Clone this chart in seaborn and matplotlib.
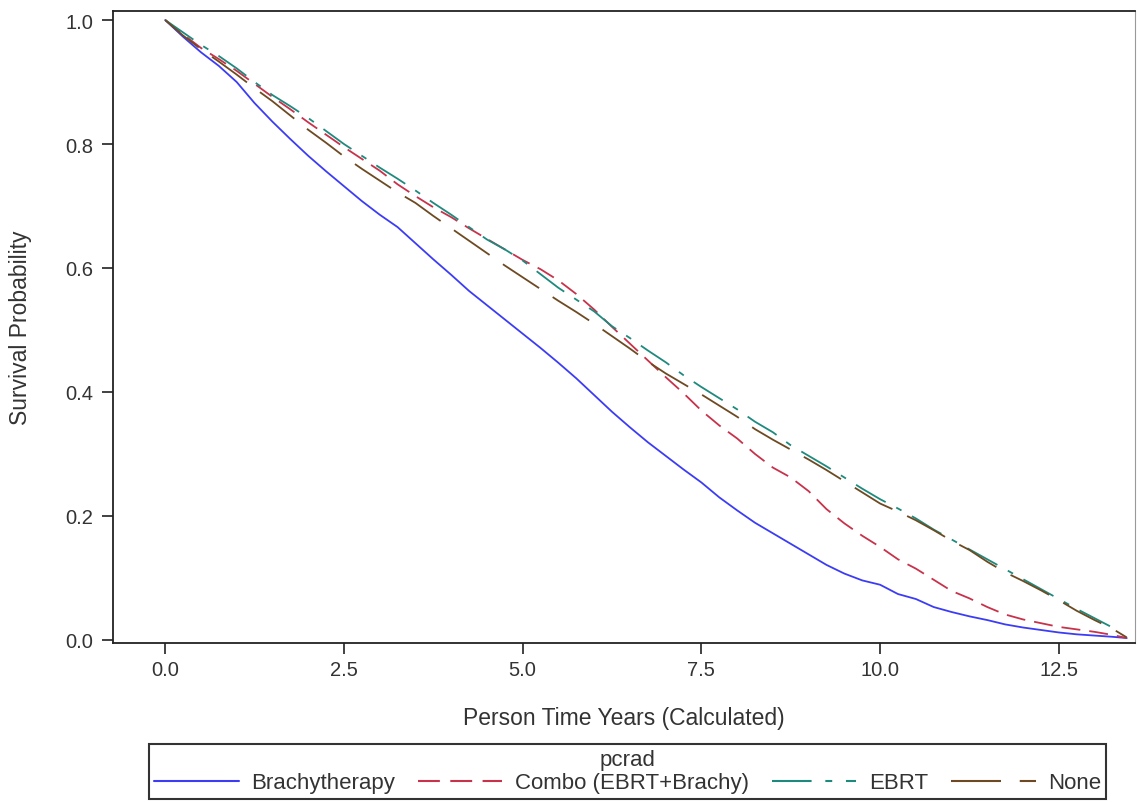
import pandas as pd
import numpy as np
import matplotlib.pyplot as plt
import seaborn as sns
from matplotlib.lines import Line2D

# ------------------------
# data (survival at quarter-year marks)
# ------------------------
years = [0.00, 0.25, 0.50, 0.75, 1.00, 1.25, 1.50, 1.75, 2.00, 2.25, 2.50, 2.75,
         3.00, 3.25, 3.50, 3.75, 4.00, 4.25, 4.50, 4.75, 5.00, 5.25, 5.50, 5.75,
         6.00, 6.25, 6.50, 6.75, 7.00, 7.25, 7.50, 7.75, 8.00, 8.25, 8.50, 8.75,
         9.00, 9.25, 9.50, 9.75, 10.00, 10.25, 10.50, 10.75, 11.00, 11.25, 11.50,
         11.75, 12.00, 12.25, 12.50, 12.75, 13.00, 13.25, 13.45]

brachy = [1.000, 0.973, 0.948, 0.926, 0.900, 0.866, 0.836, 0.808, 0.781, 0.756, 0.732, 0.708,
          0.686, 0.666, 0.640, 0.614, 0.589, 0.563, 0.540, 0.517, 0.494, 0.471, 0.447, 0.422,
          0.395, 0.368, 0.343, 0.319, 0.297, 0.275, 0.254, 0.230, 0.209, 0.189, 0.172, 0.155,
          0.138, 0.121, 0.107, 0.096, 0.089, 0.074, 0.066, 0.053, 0.045, 0.038, 0.032,
          0.025, 0.020, 0.016, 0.012, 0.009, 0.007, 0.005, 0.003]

combo = [1.000, 0.977, 0.955, 0.937, 0.918, 0.897, 0.876, 0.856, 0.835, 0.815, 0.795, 0.776,
         0.757, 0.735, 0.716, 0.698, 0.682, 0.664, 0.647, 0.630, 0.613, 0.598, 0.580, 0.558,
         0.533, 0.505, 0.478, 0.451, 0.424, 0.398, 0.370, 0.346, 0.325, 0.300, 0.278, 0.262,
         0.240, 0.211, 0.188, 0.168, 0.150, 0.130, 0.115, 0.097, 0.079, 0.067, 0.053,
         0.041, 0.033, 0.027, 0.021, 0.017, 0.013, 0.008, 0.003]

ebrt_years = years[:-1] + [13.35]
ebrt = [1.000, 0.980, 0.960, 0.942, 0.922, 0.900, 0.879, 0.861, 0.842, 0.821, 0.800, 0.781,
        0.762, 0.744, 0.725, 0.705, 0.686, 0.666, 0.646, 0.630, 0.612, 0.590, 0.568, 0.549,
        0.530, 0.506, 0.487, 0.467, 0.448, 0.427, 0.408, 0.390, 0.372, 0.352, 0.335, 0.314,
        0.297, 0.280, 0.262, 0.244, 0.227, 0.212, 0.196, 0.178, 0.162, 0.146, 0.130,
        0.114, 0.098, 0.082, 0.066, 0.050, 0.035, 0.020, 0.012]

none = [1.000, 0.975, 0.953, 0.933, 0.912, 0.890, 0.869, 0.846, 0.823, 0.802, 0.780, 0.760,
        0.741, 0.722, 0.705, 0.684, 0.664, 0.644, 0.624, 0.604, 0.585, 0.566, 0.547, 0.529,
        0.510, 0.490, 0.470, 0.449, 0.430, 0.413, 0.396, 0.378, 0.360, 0.340, 0.323, 0.307,
        0.291, 0.274, 0.256, 0.238, 0.220, 0.207, 0.193, 0.177, 0.160, 0.145, 0.126,
        0.109, 0.095, 0.080, 0.064, 0.047, 0.032, 0.018, 0.004]

groups = ["Brachytherapy", "Combo (EBRT+Brachy)", "EBRT", "None"]
colors = ["#3c3cf5", "#c8324b", "#1e8a7e", "#6e4a22"]
dash_styles = [None, (10.5, 5), (19, 6.6, 3.3, 6.6), (24, 9)]

df = pd.concat([
    pd.DataFrame({"t": years, "surv": brachy, "pcrad": groups[0]}),
    pd.DataFrame({"t": years, "surv": combo, "pcrad": groups[1]}),
    pd.DataFrame({"t": ebrt_years, "surv": ebrt, "pcrad": groups[2]}),
    pd.DataFrame({"t": years, "surv": none, "pcrad": groups[3]}),
])

# ------------------------
# plot
# ------------------------
sns.set_style("ticks")
plt.rcParams["font.family"] = ["Liberation Sans", "DejaVu Sans"]

fig = plt.figure(figsize=(11.37, 8.03), dpi=100)
ax = fig.add_axes([0.0994, 0.198, 0.8985, 0.787])

for g, c, d in zip(groups, colors, dash_styles):
    sub = df[df["pcrad"] == g]
    sns.lineplot(data=sub, x="t", y="surv", color=c, lw=1.3,
                 estimator=None, ax=ax)
    if d is not None:
        ax.lines[-1].set_dashes(d)

ax.set_xlim(-0.73, 13.56)
ax.set_ylim(-0.005, 1.0145)
ax.set_xticks([0, 2.5, 5, 7.5, 10, 12.5])
ax.set_xticklabels(["0.0", "2.5", "5.0", "7.5", "10.0", "12.5"])
ax.set_yticks([0, 0.2, 0.4, 0.6, 0.8, 1.0])
ax.set_yticklabels(["0.0", "0.2", "0.4", "0.6", "0.8", "1.0"])
ax.tick_params(axis="both", labelsize=14.5, colors="#333333", length=8, width=1.3,
               labelcolor="#333333")
ax.tick_params(axis="x", pad=4)
ax.tick_params(axis="y", pad=6)
ax.set_xlabel("Person Time Years (Calculated)", fontsize=16.5, color="#333333", labelpad=20)
ax.set_ylabel("Survival Probability", fontsize=16.5, color="#333333", labelpad=24)

for side in ["left", "bottom", "top"]:
    ax.spines[side].set_color("#222222")
    ax.spines[side].set_linewidth(1.3)
ax.spines["right"].set_color("#999999")

handles = []
for c, d in zip(colors, dash_styles):
    h = Line2D([], [], color=c, lw=1.5)
    if d is not None:
        h.set_dashes(d)
    handles.append(h)

leg = fig.legend(handles, groups, title="pcrad", ncol=4, loc="lower center",
                 bbox_to_anchor=((148 + 1107) / 2 / 1137, 3 / 803),
                 fontsize=16, title_fontsize=16, handlelength=3.8,
                 handletextpad=0.55, columnspacing=1.05, fancybox=False,
                 frameon=True, borderpad=0.25, labelspacing=0.1, borderaxespad=0)
leg.get_frame().set_edgecolor("black")
leg.get_frame().set_linewidth(1.5)
leg.get_title().set_color("#333333")
for t in leg.get_texts():
    t.set_color("#333333")

fig.savefig("out.png", dpi=100)
